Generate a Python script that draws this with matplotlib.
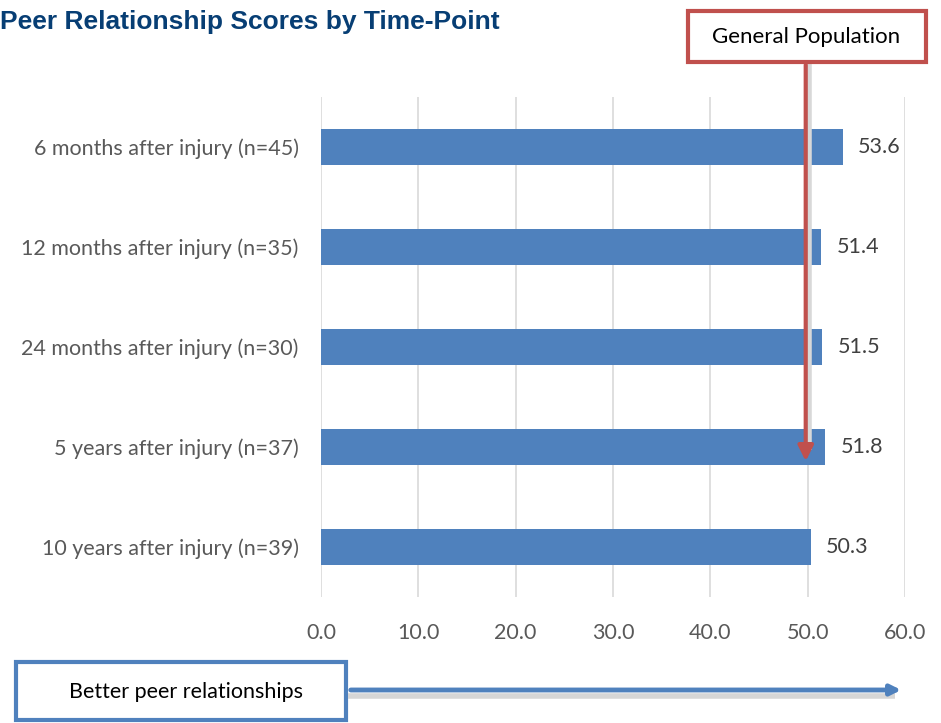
from matplotlib import pyplot as plt
from matplotlib.patches import Rectangle

#####################################################################
# Peer Relationship Scores by Time-Point
#####################################################################

categories = ["6 months after injury (n=45)",
              "12 months after injury (n=35)",
              "24 months after injury (n=30)",
              "5 years after injury (n=37)",
              "10 years after injury (n=39)"]
scores = [53.6, 51.4, 51.5, 51.8, 50.3]
ticks = [0, 10, 20, 30, 40, 50, 60]
gen_pop = 49.8

plt.rcParams['font.family'] = ['Lato', 'DejaVu Sans']

fig = plt.figure(figsize=(9.41, 7.23), dpi=100)
ax = fig.add_axes([321/941, 126/723, 584/941, 500/723])

ypos = list(range(len(categories)))
ax.barh(ypos, scores, height=0.36, color="#4F81BD", zorder=3)
for y, v in zip(ypos, scores):
    ax.text(v + 1.6, y, f"{v:.1f}", va="center", ha="left", fontsize=15.5, color="#404040")

ax.set_xlim(0, 60)
ax.set_ylim(len(categories) - 0.5, -0.5)
ax.set_xticks(ticks)
ax.set_xticklabels([f"{t:.1f}" for t in ticks], fontsize=15.5, color="#595959")
ax.set_yticks(ypos)
ax.set_yticklabels(categories, fontsize=15.5, color="#595959")
ax.tick_params(axis="both", length=0)
ax.tick_params(axis="x", pad=18.5)
ax.tick_params(axis="y", pad=16)
ax.grid(True, axis="x", color="#D9D9D9", linewidth=1.2, zorder=0)
for s in ax.spines.values():
    s.set_visible(False)

# general population arrow (with soft shadow)
ax.plot([gen_pop + 0.35, gen_pop + 0.35], [-0.85, 3.0], color="#D8D8D8", lw=4,
        clip_on=False, zorder=4)
ax.annotate("", xy=(gen_pop, 3.17), xytext=(gen_pop, -0.85),
            arrowprops=dict(arrowstyle="-|>,head_length=0.9,head_width=0.45",
                            color="#C0504D", lw=3),
            annotation_clip=False, zorder=5)

# overlay in pixel coordinates for boxes and text
ov = fig.add_axes([0, 0, 1, 1], zorder=10)
ov.set_xlim(0, 941)
ov.set_ylim(723, 0)
ov.axis("off")
ov.patch.set_alpha(0)

ov.text(0, 22, "Peer Relationship Scores by Time-Point", fontsize=19, fontweight="bold",
        color="#073E74", va="center", ha="left", family=["Liberation Sans"])

ov.add_patch(Rectangle((688, 11), 238, 51, facecolor="white", edgecolor="#C0504D", lw=3))
ov.text(806, 37, "General Population", fontsize=16, color="black", ha="center", va="center")

# blue arrow
ov.plot([348, 895], [696, 696], color="#D6D6D6", lw=4, solid_capstyle="butt")
ov.annotate("", xy=(904, 690), xytext=(348, 690),
            arrowprops=dict(arrowstyle="-|>,head_length=0.6,head_width=0.3",
                            color="#4F81BD", lw=3.5))
ov.add_patch(Rectangle((16, 662), 330, 58, facecolor="white", edgecolor="#4F81BD", lw=3))
ov.text(186, 692, "Better peer relationships", fontsize=15.5, color="black", ha="center", va="center")

plt.savefig("out.png", dpi=100)
